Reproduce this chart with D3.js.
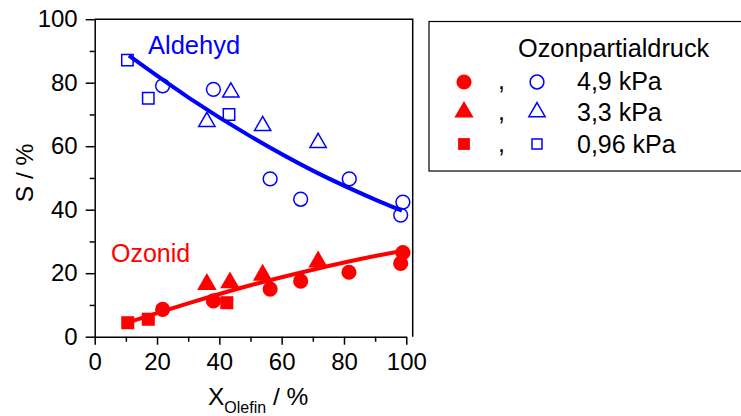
<!DOCTYPE html>
<html>
<head>
<meta charset="utf-8">
<script src="https://cdn.jsdelivr.net/npm/d3@7"></script>
<style>
  body { margin: 0; background: #fff; }
  text { font-family: "Liberation Sans", Arial, sans-serif; }
</style>
</head>
<body>
<svg width="741" height="416"></svg>
<script>
// Data
const xTicks = [0, 20, 40, 60, 80, 100];
const yTicks = [0, 20, 40, 60, 80, 100];

// Aldehyd (open symbols, blue)
const aldehyd49X = [21.8, 38.1, 56.3, 66.1, 81.7, 98.9, 98.2];
const aldehyd49Y = [79, 77.9, 49.7, 43.3, 49.7, 42.4, 38.3];
const aldehyd33X = [36, 43.7, 53.9, 71.7];
const aldehyd33Y = [67.7, 77, 66.4, 61.1];
const aldehyd096X = [10.5, 17.2, 43.1];
const aldehyd096Y = [87.1, 75.1, 70];

// Ozonid (filled symbols, red)
const ozonid49X = [21.8, 38.1, 56.3, 66.1, 81.6, 98.9, 98.2];
const ozonid49Y = [8.6, 11.3, 15, 17.5, 20.3, 26.5, 23.1];
const ozonid33X = [36, 43.4, 53.9, 71.7];
const ozonid33Y = [16.5, 17, 19.4, 23.6];
const ozonid096X = [10.6, 17.2, 42.4];
const ozonid096Y = [4.4, 5.5, 10.7];

// fit curves
const aldehydFitX = [11, 30, 50, 70, 90, 98.6];
const aldehydFitY = [88.5, 75.4, 63.1, 52.3, 43.2, 39.7];
const ozonidFitX = [9.2, 30, 50, 70, 90, 98.6];
const ozonidFitY = [4.0, 10.5, 16.2, 21.1, 25.4, 27];

const legendLabels = ["4,9 kPa", "3,3 kPa", "0,96 kPa"];

const blue = "#0000ff", red = "#ff0000";

const svg = d3.select("svg");

const x = d3.scaleLinear().domain([0, 100]).range([94.7, 406.3]);
const y = d3.scaleLinear().domain([0, 100]).range([336.7, 19.2]);

const plotL = 94.7, plotR = 412.7, plotT = 19.2, plotB = 336.7;

// frame (top + right lines)
svg.append("path")
    .attr("d", `M${plotL},${plotT}H${plotR}V${plotB}`)
    .attr("fill", "none").attr("stroke", "#000").attr("stroke-width", 1.5);

// X axis
svg.append("g")
    .attr("transform", `translate(0,${plotB})`)
    .call(d3.axisBottom(x).tickValues(xTicks).tickSize(8).tickSizeOuter(0).tickPadding(8).tickFormat(d3.format("d")));
svg.append("g")
    .attr("transform", `translate(0,${plotB})`)
    .call(d3.axisBottom(x).tickValues(d3.range(10, 100, 20)).tickSize(5).tickSizeOuter(0).tickFormat(""))
    .select(".domain").remove();

// Y axis
svg.append("g")
    .attr("transform", `translate(${plotL},0)`)
    .call(d3.axisLeft(y).tickValues(yTicks).tickSize(9).tickSizeOuter(0).tickPadding(8).tickFormat(d3.format("d")));
svg.append("g")
    .attr("transform", `translate(${plotL},0)`)
    .call(d3.axisLeft(y).tickValues(d3.range(10, 100, 20)).tickSize(5).tickSizeOuter(0).tickFormat(""))
    .select(".domain").remove();

svg.selectAll(".domain").attr("stroke-width", 1.5);
svg.selectAll(".tick line").attr("stroke-width", 1.5);
svg.selectAll(".tick text")
    .attr("font-size", 24)
    .attr("font-family", "Liberation Sans, Arial, sans-serif")
    .attr("fill", "#000");

// axis titles
const xt = svg.append("text")
    .attr("x", 208).attr("y", 405)
    .attr("font-size", 24.5);
xt.append("tspan").text("X");
xt.append("tspan").attr("font-size", 16).attr("dy", 8).text("Olefin");
xt.append("tspan").attr("dy", -8).text(" / %");

svg.append("text")
    .attr("transform", "translate(33,173) rotate(-90)")
    .attr("text-anchor", "middle")
    .attr("font-size", 24.5)
    .text("S / %");

// fit lines
const line = d3.line().x(d => x(d[0])).y(d => y(d[1])).curve(d3.curveMonotoneX);
svg.append("path")
    .datum(d3.zip(aldehydFitX, aldehydFitY))
    .attr("d", line).attr("fill", "none").attr("stroke", blue).attr("stroke-width", 4);
svg.append("path")
    .datum(d3.zip(ozonidFitX, ozonidFitY))
    .attr("d", line).attr("fill", "none").attr("stroke", red).attr("stroke-width", 4);

// symbols
const symCircle = d3.symbol().type(d3.symbolCircle);
const symTri = d3.symbol().type(d3.symbolTriangle);
const symSq = d3.symbol().type(d3.symbolSquare);

function points(xs, ys, sym, size, filled, color) {
    svg.append("g").selectAll("path")
        .data(d3.zip(xs, ys))
        .enter().append("path")
        .attr("transform", d => `translate(${x(d[0])},${y(d[1])})`)
        .attr("d", sym.size(size)())
        .attr("fill", filled ? color : "none")
        .attr("stroke", color)
        .attr("stroke-width", filled ? 0 : 1.5);
}

points(aldehyd49X, aldehyd49Y, symCircle, 150, false, blue);
points(aldehyd33X, aldehyd33Y, symTri, 115, false, blue);
points(aldehyd096X, aldehyd096Y, symSq, 130, false, blue);
points(ozonid49X, ozonid49Y, symCircle, 180, true, red);
points(ozonid33X, ozonid33Y, symTri, 165, true, red);
points(ozonid096X, ozonid096Y, symSq, 170, true, red);

// curve labels
svg.append("text").attr("x", 148).attr("y", 53.5).attr("font-size", 25.5).attr("fill", blue).text("Aldehyd");
svg.append("text").attr("x", 111).attr("y", 262).attr("font-size", 25).attr("fill", red).text("Ozonid");

// legend
const lg = svg.append("g");
lg.append("rect")
    .attr("x", 429).attr("y", 21.5).attr("width", 330).attr("height", 149.5)
    .attr("fill", "none").attr("stroke", "#000").attr("stroke-width", 1.2);
lg.append("text").attr("x", 518).attr("y", 57).attr("font-size", 25.3).text("Ozonpartialdruck");

const legendSyms = [[symCircle, 180, 150], [symTri, 160, 115], [symSq, 140, 100]];
const rowY = [82, 112, 144];
const baseY = [90, 121, 152.5];
legendLabels.forEach((lab, i) => {
    lg.append("path")
        .attr("transform", `translate(464,${rowY[i]})`)
        .attr("d", legendSyms[i][0].size(legendSyms[i][1])())
        .attr("fill", red);
    lg.append("text").attr("x", 498).attr("y", baseY[i] - 1).attr("font-size", 25).text(",");
    lg.append("path")
        .attr("transform", `translate(537,${rowY[i]})`)
        .attr("d", legendSyms[i][0].size(legendSyms[i][2])())
        .attr("fill", "none").attr("stroke", blue).attr("stroke-width", 1.5);
    lg.append("text").attr("x", 577).attr("y", baseY[i]).attr("font-size", 25).text(lab);
});
</script>
</body>
</html>
